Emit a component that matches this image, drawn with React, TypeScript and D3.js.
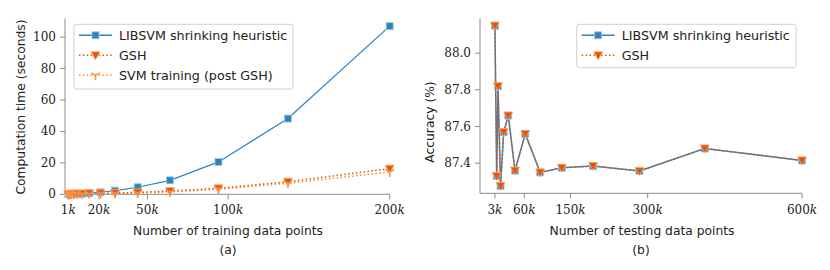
import React, { useEffect, useRef } from 'react';
import * as d3 from 'd3';

// (a) training time vs number of training points (in thousands)
const trainSizes = [1, 1.5, 2.1, 3.1, 4.5, 6.6, 9.7, 14, 21, 30, 44, 64, 94, 137, 200];
const libsvmTime = [0.05, 0.08, 0.1, 0.15, 0.2, 0.3, 0.45, 0.7, 1.3, 2.3, 4.5, 8.9, 20.6, 48.2, 107];
const gshTime = [0.2, 0.25, 0.3, 0.35, 0.4, 0.45, 0.5, 0.6, 0.7, 0.8, 1.2, 2.1, 3.8, 8, 16.3];
const svmPostTime = [0.02, 0.03, 0.05, 0.07, 0.1, 0.15, 0.2, 0.3, 0.4, 0.5, 0.8, 1.5, 3.2, 7, 14.2];
const trainTicks = [1, 20, 50, 100, 200];
const timeTicks = [0, 20, 40, 60, 80, 100];

// (b) accuracy vs number of testing points (in thousands)
const testSizes = [3, 6.5, 9, 14, 20, 29, 42, 62, 91, 133, 194, 284, 411, 600];
const libsvmAcc = [88.15, 87.33, 87.82, 87.276, 87.57, 87.66, 87.36, 87.56, 87.35, 87.375, 87.385, 87.358, 87.48, 87.415];
const gshAcc = [88.15, 87.33, 87.82, 87.276, 87.57, 87.66, 87.36, 87.56, 87.35, 87.375, 87.385, 87.358, 87.48, 87.415];
const testTicks = [3, 60, 150, 300, 600];
const accTicks = [87.4, 87.6, 87.8, 88.0];

const BLUE = '#3182bd';
const DARK_ORANGE = '#e6550d';
const ORANGE = '#fd8d3c';
const SPINE = '#8c8c8c';
const SANS = '"DejaVu Sans", sans-serif';
const SERIF = '"DejaVu Serif", serif';
const LABEL_SIZE = 12.3;

type G = d3.Selection<SVGGElement, unknown, null, undefined>;

function square(g: G, x: number, y: number) {
    g.append('rect').attr('x', x - 3.5).attr('y', y - 3.5).attr('width', 7).attr('height', 7)
        .attr('fill', BLUE).attr('stroke', '#9ecae1').attr('stroke-width', 0.8);
}

function triDownFilled(g: G, x: number, y: number) {
    g.append('path').attr('d', `M${x - 4.5},${y - 3.5}L${x + 4.5},${y - 3.5}L${x},${y + 4.5}Z`)
        .attr('fill', DARK_ORANGE).attr('stroke', '#fdae6b').attr('stroke-width', 0.8);
}

function triDownLines(g: G, x: number, y: number) {
    g.append('path').attr('d', `M${x},${y}L${x},${y + 5}M${x},${y}L${x - 4.3},${y - 2.5}M${x},${y}L${x + 4.3},${y - 2.5}`)
        .attr('fill', 'none').attr('stroke', ORANGE).attr('stroke-width', 1.5);
}

function tickText(g: G, x: number, y: number, num: string, k: boolean, anchor: string) {
    const t = g.append('text').attr('x', x).attr('y', y).attr('text-anchor', anchor)
        .attr('font-family', SERIF).attr('font-size', 12).attr('fill', '#222');
    t.append('tspan').text(num);
    if (k) t.append('tspan').attr('font-style', 'italic').text('k');
}

function legend(g: G, x: number, y: number, w: number, h: number, items: { label: string; kind: string }[]) {
    g.append('rect').attr('x', x).attr('y', y).attr('width', w).attr('height', h).attr('rx', 2.5)
        .attr('fill', 'white').attr('fill-opacity', 0.85).attr('stroke', '#d0d0d0').attr('stroke-width', 1);
    items.forEach((it, i) => {
        const cy = y + 11 + i * 20;
        const lx0 = x + 5, lx1 = x + 38, mx = (lx0 + lx1) / 2;
        const line = g.append('line').attr('x1', lx0).attr('x2', lx1).attr('y1', cy).attr('y2', cy).attr('stroke-width', 1.5);
        if (it.kind === 'blue') { line.attr('stroke', BLUE); square(g, mx, cy); }
        if (it.kind === 'gsh') { line.attr('stroke', DARK_ORANGE).attr('stroke-dasharray', '1.5,2.4'); triDownFilled(g, mx, cy); }
        if (it.kind === 'post') { line.attr('stroke', ORANGE).attr('stroke-dasharray', '1.5,2.4'); triDownLines(g, mx, cy); }
        g.append('text').attr('x', x + 45).attr('y', cy + 4.5).attr('font-family', SANS).attr('font-size', 12.7)
            .attr('fill', '#222').text(it.label);
    });
}

function label(g: G, x: number, y: number, text: string, rotate = false) {
    const t = g.append('text').attr('text-anchor', 'middle')
        .attr('font-family', SANS).attr('font-size', LABEL_SIZE).attr('fill', '#222').text(text);
    if (rotate) t.attr('transform', `translate(${x},${y}) rotate(-90)`);
    else t.attr('x', x).attr('y', y);
}

const App: React.FC = () => {
    const svgRef = useRef<SVGSVGElement>(null);

    useEffect(() => {
        const svg = d3.select(svgRef.current);
        svg.selectAll('*').remove();
        const root = svg.append('g') as unknown as G;

        // ---------- panel (a) ----------
        const xa = d3.scaleLinear().domain([-1, 200]).range([65, 389.7]);
        const ya = d3.scaleLinear().domain([0, 112]).range([194.3, 18.3]);
        const a = root.append('g') as unknown as G;

        a.append('line').attr('x1', 65).attr('x2', 65).attr('y1', 18.3).attr('y2', 194.3).attr('stroke', SPINE).attr('stroke-width', 1);
        a.append('line').attr('x1', 65).attr('x2', 389.7).attr('y1', 194.3).attr('y2', 194.3).attr('stroke', SPINE).attr('stroke-width', 1);
        timeTicks.forEach(t => {
            a.append('line').attr('x1', 60).attr('x2', 65).attr('y1', ya(t)).attr('y2', ya(t)).attr('stroke', SPINE);
            tickText(a, 56, ya(t) + 4, String(t), false, 'end');
        });
        trainTicks.forEach(t => {
            a.append('line').attr('x1', xa(t)).attr('x2', xa(t)).attr('y1', 194.3).attr('y2', 199.5).attr('stroke', SPINE);
            tickText(a, xa(t), 214, String(t), true, 'middle');
        });

        const lineA = (vals: number[]) => d3.line<number>().x((_, i) => xa(trainSizes[i])).y(d => ya(d))(vals) || '';
        a.append('path').attr('d', lineA(svmPostTime)).attr('fill', 'none').attr('stroke', ORANGE).attr('stroke-width', 1.5).attr('stroke-dasharray', '1.5,2.4');
        a.append('path').attr('d', lineA(gshTime)).attr('fill', 'none').attr('stroke', DARK_ORANGE).attr('stroke-width', 1.5).attr('stroke-dasharray', '1.5,2.4');
        a.append('path').attr('d', lineA(libsvmTime)).attr('fill', 'none').attr('stroke', BLUE).attr('stroke-width', 1.2);
        libsvmTime.forEach((v, i) => square(a, xa(trainSizes[i]), ya(v)));
        gshTime.forEach((v, i) => triDownFilled(a, xa(trainSizes[i]), ya(v)));
        svmPostTime.forEach((v, i) => triDownLines(a, xa(trainSizes[i]), ya(v)));

        legend(a, 74, 24.3, 219, 64.7, [
            { label: 'LIBSVM shrinking heuristic', kind: 'blue' },
            { label: 'GSH', kind: 'gsh' },
            { label: 'SVM training (post GSH)', kind: 'post' },
        ]);

        label(a, 25, 107, 'Computation time (seconds)', true);
        label(a, 228, 235, 'Number of training data points');
        label(a, 228, 254, '(a)');

        // ---------- panel (b) ----------
        const xb = d3.scaleLinear().domain([-26, 600]).range([480, 802]);
        const yb = d3.scaleLinear().domain([87.236, 88.19]).range([193.3, 18.3]);
        const b = root.append('g') as unknown as G;

        b.append('line').attr('x1', 480).attr('x2', 480).attr('y1', 18.3).attr('y2', 193.3).attr('stroke', SPINE);
        b.append('line').attr('x1', 480).attr('x2', 802).attr('y1', 193.3).attr('y2', 193.3).attr('stroke', SPINE);
        accTicks.forEach(t => {
            b.append('line').attr('x1', 475).attr('x2', 480).attr('y1', yb(t)).attr('y2', yb(t)).attr('stroke', SPINE);
            tickText(b, 471, yb(t) + 4, t.toFixed(1), false, 'end');
        });
        testTicks.forEach(t => {
            b.append('line').attr('x1', xb(t)).attr('x2', xb(t)).attr('y1', 193.3).attr('y2', 198.5).attr('stroke', SPINE);
            tickText(b, xb(t), 214, String(t), true, 'middle');
        });

        const lineB = (vals: number[]) => d3.line<number>().x((_, i) => xb(testSizes[i])).y(d => yb(d))(vals) || '';
        b.append('path').attr('d', lineB(libsvmAcc)).attr('fill', 'none').attr('stroke', BLUE).attr('stroke-width', 1.5);
        libsvmAcc.forEach((v, i) => square(b, xb(testSizes[i]), yb(v)));
        b.append('path').attr('d', lineB(gshAcc)).attr('fill', 'none').attr('stroke', DARK_ORANGE).attr('stroke-width', 1.5).attr('stroke-dasharray', '1.5,2.4');
        gshAcc.forEach((v, i) => triDownFilled(b, xb(testSizes[i]), yb(v)));

        legend(b, 576.7, 24.3, 219.3, 43.4, [
            { label: 'LIBSVM shrinking heuristic', kind: 'blue' },
            { label: 'GSH', kind: 'gsh' },
        ]);

        label(b, 434, 122, 'Accuracy (%)', true);
        label(b, 642, 235, 'Number of testing data points');
        label(b, 641, 254, '(b)');
    }, []);

    return (
        <svg ref={svgRef} width={830} height={270}
            style={{ position: 'absolute', left: 0, top: 0, background: 'white' }} />
    );
};

export default App;
